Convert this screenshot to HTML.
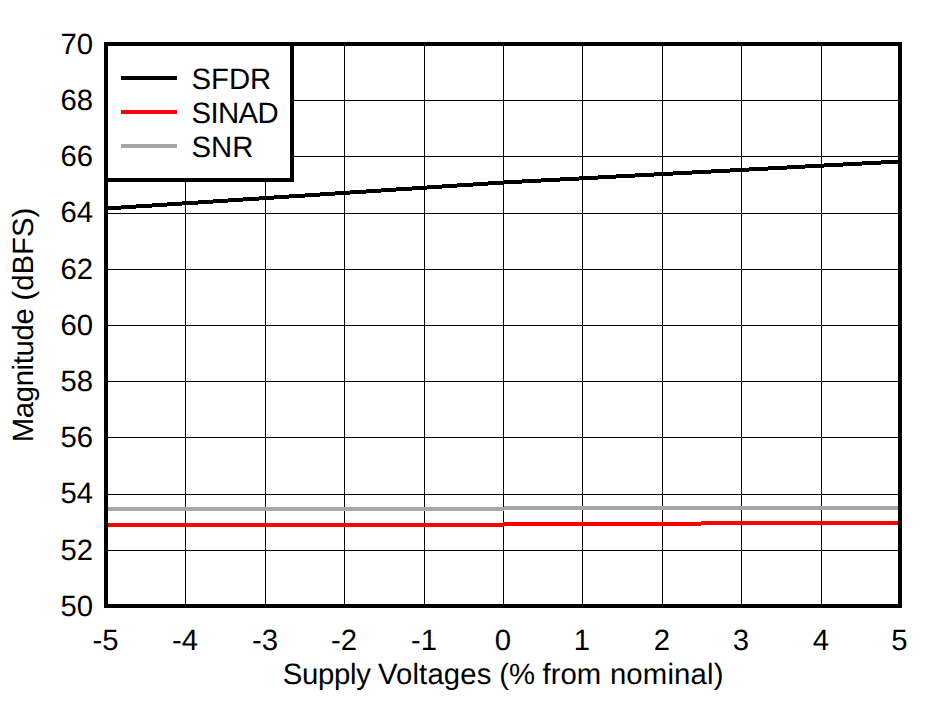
<!DOCTYPE html>
<html><head><meta charset="utf-8"><style>
html,body{margin:0;padding:0;background:#fff;}
body{width:932px;height:701px;overflow:hidden;}
svg{display:block;}
text{font-family:"Liberation Sans",sans-serif;font-size:29.3px;fill:#000;text-rendering:geometricPrecision;}
</style></head><body>
<svg width="932" height="701" viewBox="0 0 932 701">
<rect x="0" y="0" width="932" height="701" fill="#fff"/>
<g shape-rendering="crispEdges">
<rect x="185" y="46" width="1" height="558" fill="#000"/>
<rect x="265" y="46" width="1" height="558" fill="#000"/>
<rect x="344" y="46" width="1" height="558" fill="#000"/>
<rect x="424" y="46" width="1" height="558" fill="#000"/>
<rect x="503" y="46" width="1" height="558" fill="#000"/>
<rect x="582" y="46" width="1" height="558" fill="#000"/>
<rect x="662" y="46" width="1" height="558" fill="#000"/>
<rect x="741" y="46" width="1" height="558" fill="#000"/>
<rect x="821" y="46" width="1" height="558" fill="#000"/>
<rect x="108" y="100" width="790" height="1" fill="#000"/>
<rect x="108" y="156" width="790" height="1" fill="#000"/>
<rect x="108" y="213" width="790" height="1" fill="#000"/>
<rect x="108" y="269" width="790" height="1" fill="#000"/>
<rect x="108" y="325" width="790" height="1" fill="#000"/>
<rect x="108" y="381" width="790" height="1" fill="#000"/>
<rect x="108" y="437" width="790" height="1" fill="#000"/>
<rect x="108" y="494" width="790" height="1" fill="#000"/>
<rect x="108" y="550" width="790" height="1" fill="#000"/>
<rect x="108" y="206" width="13" height="4" fill="#000"/>
<rect x="121" y="205" width="15" height="4" fill="#000"/>
<rect x="136" y="204" width="16" height="4" fill="#000"/>
<rect x="152" y="203" width="15" height="4" fill="#000"/>
<rect x="167" y="202" width="15" height="4" fill="#000"/>
<rect x="182" y="201" width="16" height="4" fill="#000"/>
<rect x="198" y="200" width="15" height="4" fill="#000"/>
<rect x="213" y="199" width="15" height="4" fill="#000"/>
<rect x="228" y="198" width="15" height="4" fill="#000"/>
<rect x="243" y="197" width="16" height="4" fill="#000"/>
<rect x="259" y="196" width="15" height="4" fill="#000"/>
<rect x="274" y="195" width="15" height="4" fill="#000"/>
<rect x="289" y="194" width="16" height="4" fill="#000"/>
<rect x="305" y="193" width="15" height="4" fill="#000"/>
<rect x="320" y="192" width="15" height="4" fill="#000"/>
<rect x="335" y="191" width="15" height="4" fill="#000"/>
<rect x="350" y="190" width="16" height="4" fill="#000"/>
<rect x="366" y="189" width="15" height="4" fill="#000"/>
<rect x="381" y="188" width="15" height="4" fill="#000"/>
<rect x="396" y="187" width="16" height="4" fill="#000"/>
<rect x="412" y="186" width="15" height="4" fill="#000"/>
<rect x="427" y="185" width="15" height="4" fill="#000"/>
<rect x="442" y="184" width="15" height="4" fill="#000"/>
<rect x="457" y="183" width="16" height="4" fill="#000"/>
<rect x="473" y="182" width="15" height="4" fill="#000"/>
<rect x="488" y="181" width="15" height="4" fill="#000"/>
<rect x="503" y="180" width="19" height="4" fill="#000"/>
<rect x="522" y="179" width="19" height="4" fill="#000"/>
<rect x="541" y="178" width="19" height="4" fill="#000"/>
<rect x="560" y="177" width="19" height="4" fill="#000"/>
<rect x="579" y="176" width="19" height="4" fill="#000"/>
<rect x="598" y="175" width="18" height="4" fill="#000"/>
<rect x="616" y="174" width="19" height="4" fill="#000"/>
<rect x="635" y="173" width="19" height="4" fill="#000"/>
<rect x="654" y="172" width="19" height="4" fill="#000"/>
<rect x="673" y="171" width="19" height="4" fill="#000"/>
<rect x="692" y="170" width="19" height="4" fill="#000"/>
<rect x="711" y="169" width="19" height="4" fill="#000"/>
<rect x="730" y="168" width="19" height="4" fill="#000"/>
<rect x="749" y="167" width="19" height="4" fill="#000"/>
<rect x="768" y="166" width="19" height="4" fill="#000"/>
<rect x="787" y="165" width="18" height="4" fill="#000"/>
<rect x="805" y="164" width="19" height="4" fill="#000"/>
<rect x="824" y="163" width="19" height="4" fill="#000"/>
<rect x="843" y="162" width="19" height="4" fill="#000"/>
<rect x="862" y="161" width="19" height="4" fill="#000"/>
<rect x="881" y="160" width="17" height="4" fill="#000"/>
<rect x="108" y="507" width="396" height="4" fill="#A6A6A6"/>
<rect x="504" y="506" width="394" height="4" fill="#A6A6A6"/>
<rect x="108" y="523" width="395" height="4" fill="#FF0000"/>
<rect x="503" y="522" width="198" height="4" fill="#FF0000"/>
<rect x="701" y="521" width="197" height="4" fill="#FF0000"/>
<rect x="104" y="42" width="798" height="4" fill="#000"/>
<rect x="104" y="604" width="798" height="4" fill="#000"/>
<rect x="104" y="42" width="4" height="566" fill="#000"/>
<rect x="898" y="42" width="4" height="566" fill="#000"/>
<rect x="108" y="46" width="182" height="132" fill="#fff"/>
<rect x="104" y="42" width="190" height="4" fill="#000"/>
<rect x="104" y="178" width="190" height="4" fill="#000"/>
<rect x="104" y="42" width="4" height="140" fill="#000"/>
<rect x="290" y="42" width="4" height="140" fill="#000"/>
<rect x="121" y="76" width="56" height="4" fill="#000"/>
<rect x="121" y="110" width="56" height="4" fill="#FF0000"/>
<rect x="121" y="144" width="56" height="4" fill="#A6A6A6"/>
</g>
<g>
<text x="191.5" y="88.7" text-anchor="start" >SFDR</text>
<text x="191.5" y="122.7" text-anchor="start" textLength="87.1" lengthAdjust="spacing">SINAD</text>
<text x="191.5" y="156.7" text-anchor="start" >SNR</text>
<text x="93.0" y="53.7" text-anchor="end" >70</text>
<text x="93.0" y="109.9" text-anchor="end" >68</text>
<text x="93.0" y="166.1" text-anchor="end" >66</text>
<text x="93.0" y="222.3" text-anchor="end" >64</text>
<text x="93.0" y="278.5" text-anchor="end" >62</text>
<text x="93.0" y="334.7" text-anchor="end" >60</text>
<text x="93.0" y="390.9" text-anchor="end" >58</text>
<text x="93.0" y="447.1" text-anchor="end" >56</text>
<text x="93.0" y="503.3" text-anchor="end" >54</text>
<text x="93.0" y="559.5" text-anchor="end" >52</text>
<text x="93.0" y="615.7" text-anchor="end" >50</text>
<text x="105.5" y="650" text-anchor="middle" >-5</text>
<text x="185.0" y="650" text-anchor="middle" >-4</text>
<text x="265.0" y="650" text-anchor="middle" >-3</text>
<text x="344.0" y="650" text-anchor="middle" >-2</text>
<text x="424.0" y="650" text-anchor="middle" >-1</text>
<text x="503.0" y="650" text-anchor="middle" >0</text>
<text x="582.0" y="650" text-anchor="middle" >1</text>
<text x="662.0" y="650" text-anchor="middle" >2</text>
<text x="741.0" y="650" text-anchor="middle" >3</text>
<text x="821.0" y="650" text-anchor="middle" >4</text>
<text x="899.5" y="650" text-anchor="middle" >5</text>
<text x="282.7" y="684" text-anchor="start" textLength="88.3" lengthAdjust="spacing">Supply</text>
<text x="377.9" y="684" text-anchor="start" textLength="113.5" lengthAdjust="spacing">Voltages</text>
<text x="499.3" y="684" text-anchor="start" >(%</text>
<text x="542.6" y="684" text-anchor="start" >from</text>
<text x="609.9" y="684" text-anchor="start" textLength="113.6" lengthAdjust="spacing">nominal)</text>
<text x="0" y="0" text-anchor="start" textLength="133.9" lengthAdjust="spacing" transform="translate(32.9,442.2) rotate(-90)">Magnitude</text>
<text x="0" y="0" text-anchor="start" transform="translate(32.9,300.6) rotate(-90)">(dBFS)</text>
</g>
</svg>
</body></html>
